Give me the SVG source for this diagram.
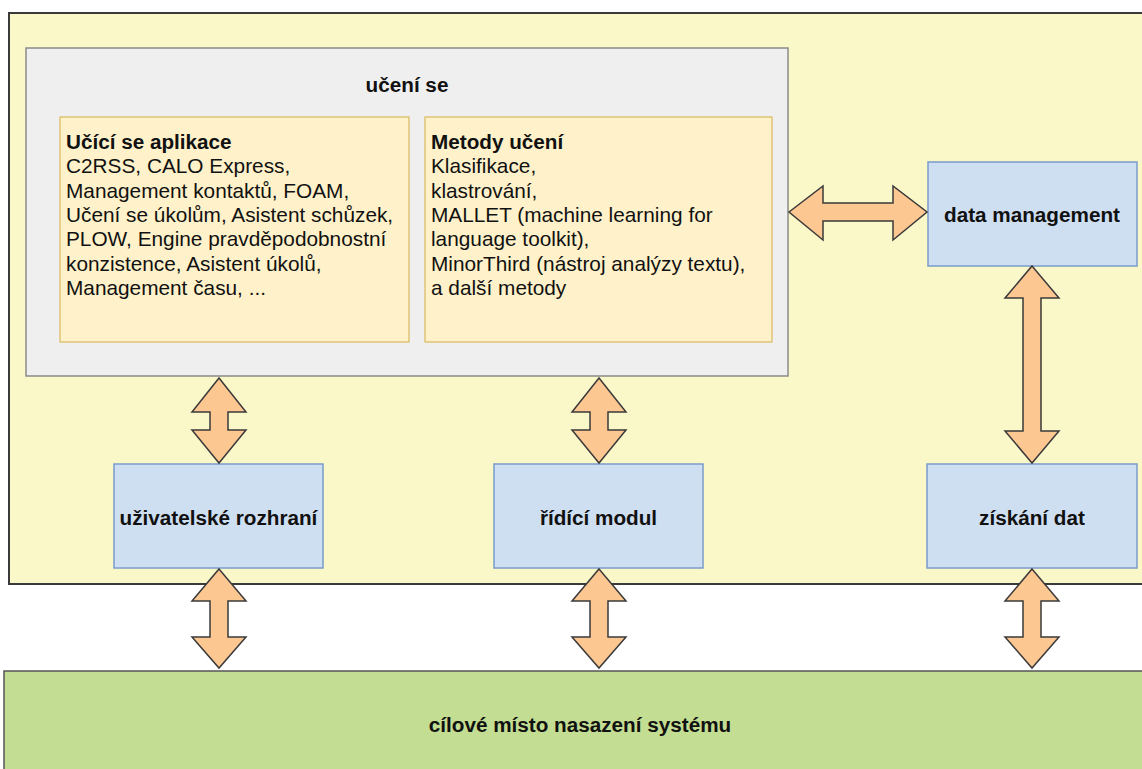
<svg xmlns="http://www.w3.org/2000/svg" width="1142" height="769" viewBox="0 0 1142 769">
<style>
.t{font-family:"Liberation Sans",Arial,sans-serif;fill:#111}
.b{font-weight:bold;font-size:20.7px}
.r{font-size:20.8px}
.blue{fill:#cfdff2;stroke:#7a9ccb;stroke-width:1.5}
.org{fill:#fff1ca;stroke:#d9b95e;stroke-width:1.2}
.arr{fill:#fdc792;stroke:#3a3a3a;stroke-width:1.5;stroke-linejoin:miter}
</style>
<rect width="1142" height="769" fill="#ffffff"/>
<g id="system">
<rect x="9" y="13" width="1145" height="571" fill="#faf7c8" stroke="#3a3a3a" stroke-width="2"/>
</g>
<g id="uceni-se">
<rect x="26" y="48" width="762" height="328" fill="#efefef" stroke="#8a8a8a" stroke-width="1.5"/>
<text class="t b" x="407" y="92" text-anchor="middle">učení se</text>
</g>
<g id="aplikace">
<rect class="org" x="60" y="117" width="349" height="225"/>
<text class="t r" x="66" y="149"><tspan class="b">Učící se aplikace</tspan><tspan x="66" dy="24.3">C2RSS, CALO Express,</tspan><tspan x="66" dy="24.3">Management kontaktů, FOAM,</tspan><tspan x="66" dy="24.3">Učení se úkolům, Asistent schůzek,</tspan><tspan x="66" dy="24.3">PLOW, Engine pravděpodobnostní</tspan><tspan x="66" dy="24.3">konzistence, Asistent úkolů,</tspan><tspan x="66" dy="24.3">Management času, ...</tspan></text>
</g>
<g id="metody">
<rect class="org" x="425" y="117" width="347" height="225"/>
<text class="t r" x="431" y="149"><tspan class="b">Metody učení</tspan><tspan x="431" dy="24.3">Klasifikace,</tspan><tspan x="431" dy="24.3">klastrování,</tspan><tspan x="431" dy="24.3">MALLET (machine learning for</tspan><tspan x="431" dy="24.3">language toolkit),</tspan><tspan x="431" dy="24.3">MinorThird (nástroj analýzy textu),</tspan><tspan x="431" dy="24.3">a další metody</tspan></text>
</g>
<g id="data-management">
<rect class="blue" x="928" y="162" width="209" height="104"/>
<text class="t b" x="1032" y="222" text-anchor="middle">data management</text>
</g>
<g id="uzivatelske-rozhrani">
<rect class="blue" x="114" y="464" width="209" height="104"/>
<text class="t b" x="218.5" y="525" text-anchor="middle">uživatelské rozhraní</text>
</g>
<g id="ridici-modul">
<rect class="blue" x="494" y="464" width="209" height="104"/>
<text class="t b" x="598.5" y="525" text-anchor="middle">řídící modul</text>
</g>
<g id="ziskani-dat">
<rect class="blue" x="927" y="464" width="210" height="104"/>
<text class="t b" x="1032" y="525" text-anchor="middle">získání dat</text>
</g>
<g id="cilove-misto">
<rect x="4" y="671" width="1150" height="110" fill="#c3dd92" stroke="#555" stroke-width="1.5"/>
<text class="t b" x="580" y="732" text-anchor="middle">cílové místo nasazení systému</text>
</g>
<g id="connectors">
<polygon class="arr" points="219,378 246,412 228,412 228,430 246,430 219,463 192,430 210,430 210,412 192,412"/>
<polygon class="arr" points="219,569 246,601 228,601 228,637 246,637 219,668 192,637 210,637 210,601 192,601"/>
<polygon class="arr" points="599,378 626,412 608,412 608,430 626,430 599,463 572,430 590,430 590,412 572,412"/>
<polygon class="arr" points="599,569 626,601 608,601 608,637 626,637 599,668 572,637 590,637 590,601 572,601"/>
<polygon class="arr" points="1032,266 1059,298 1041,298 1041,431 1059,431 1032,463 1005,431 1023,431 1023,298 1005,298"/>
<polygon class="arr" points="1032,569 1059,601 1041,601 1041,637 1059,637 1032,668 1005,637 1023,637 1023,601 1005,601"/>
<polygon class="arr" points="789,212 823,186 823,203 893,203 893,186 927,212 893,240 893,221 823,221 823,240"/>
</g>
</svg>
